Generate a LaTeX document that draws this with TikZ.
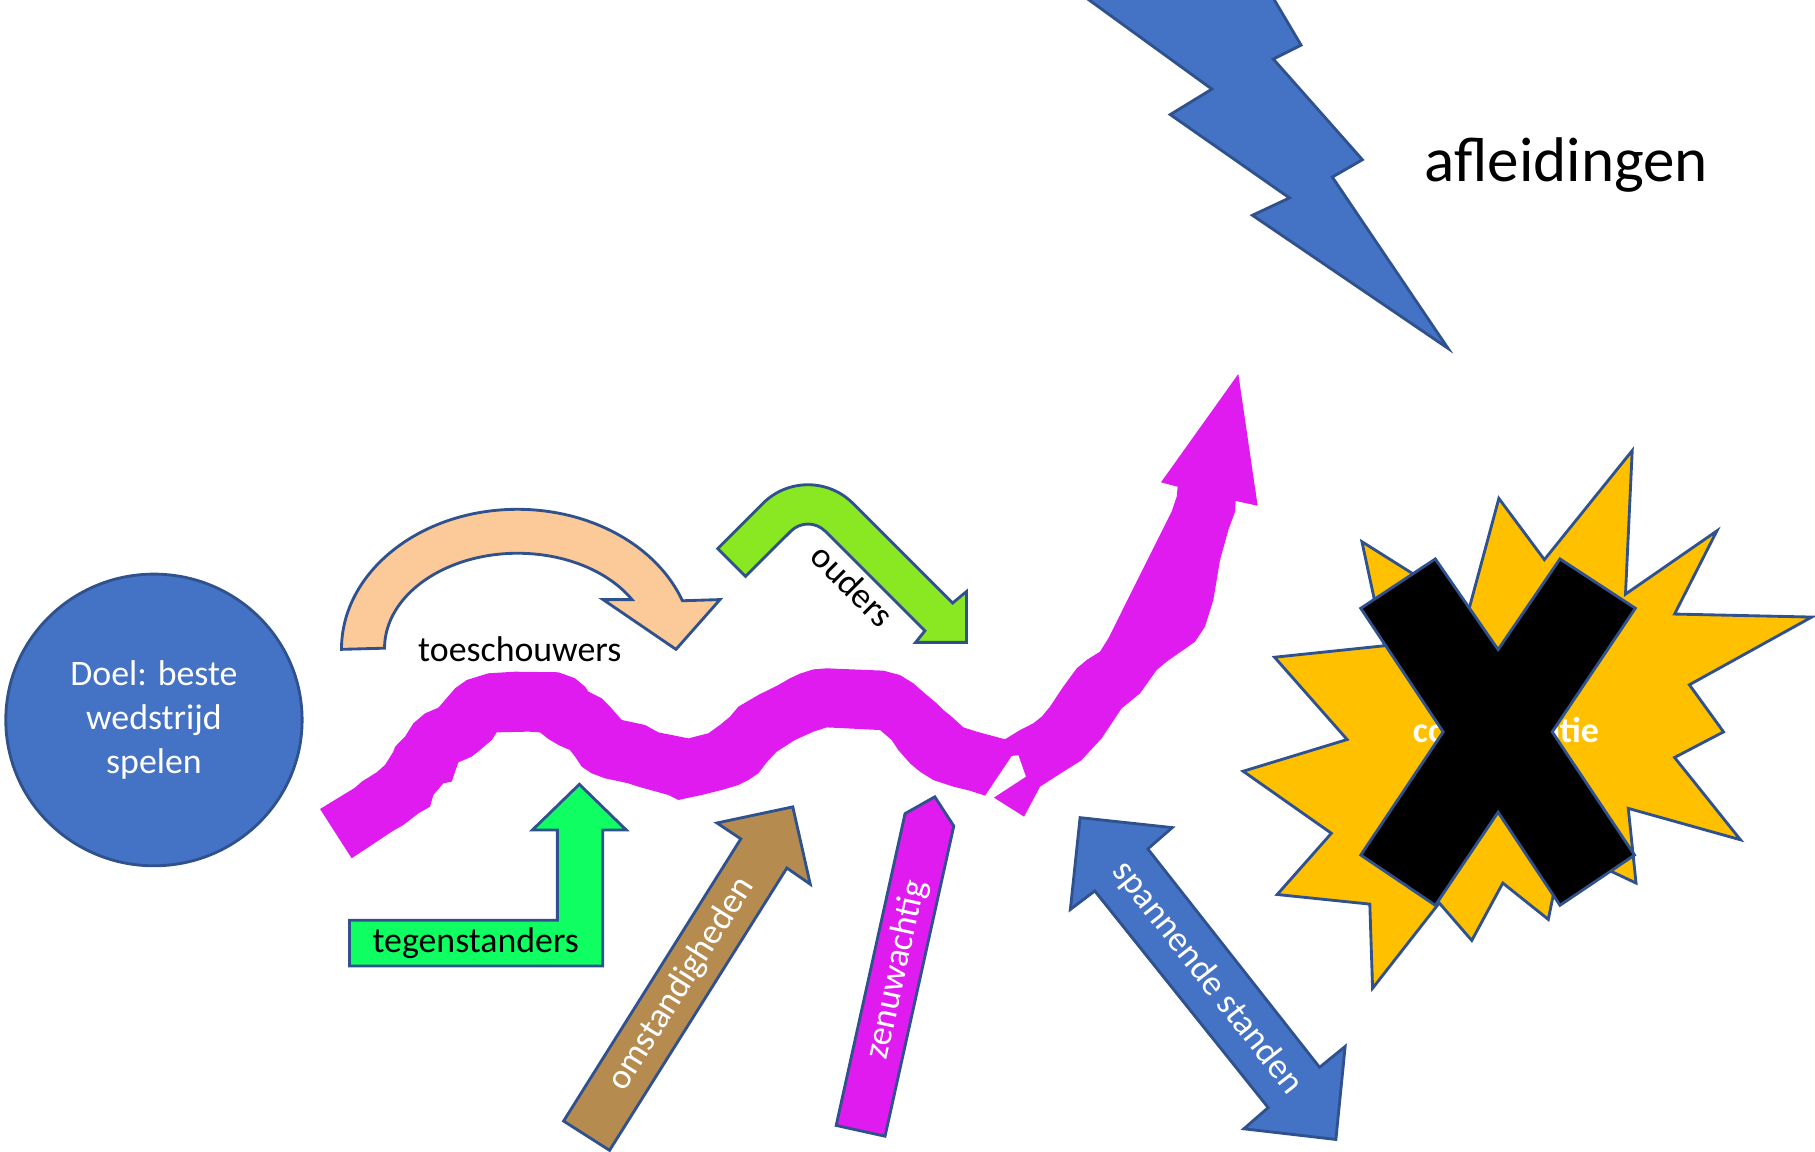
\documentclass[tikz,border=0pt]{standalone}
\usepackage{fontspec}
\setmainfont{Carlito}
\definecolor{officeblue}{HTML}{4472C4}
\definecolor{edgeblue}{HTML}{2F528F}
\definecolor{peach}{HTML}{FBCA98}
\definecolor{limegreen}{HTML}{8AE823}
\definecolor{neongreen}{HTML}{0FFF63}
\definecolor{clay}{HTML}{B68B50}
\definecolor{vividpink}{HTML}{DF1BEF}
\definecolor{burst}{HTML}{FFC000}

\begin{document}
\begin{tikzpicture}[x=0.01cm, y=-0.01cm,
    outlined/.style={draw=edgeblue, line width=0.7pt, line join=miter},
    smalltext/.style={font=\fontsize{8.8}{10.7}\selectfont, inner sep=0pt},
    bigtext/.style={font=\fontsize{15.5}{18}\selectfont, inner sep=0pt}]
\useasboundingbox (0,0) rectangle (1568,995);

% Goal circle
\draw[outlined, fill=officeblue] (133,622) ellipse [x radius=128, y radius=126];
\node[smalltext, text=white, align=center] (doel) at (133,622) {Doel: beste\\wedstrijd\\spelen};

% Lightning bolt (distractions)
\draw[outlined, fill=officeblue] (934,-5) -- (1047,77) -- (1011,99) -- (1114,171) -- (1082,186)
    -- (1251,301) -- (1151,153) -- (1177,138) -- (1100,51) -- (1124,39) -- (1098,-5) -- cycle;
\node[bigtext] (afleid) at (1353,143) {afleidingen};

% Spectators: curved arrow
\draw[outlined, fill=peach] (295,561) arc[start angle=180, end angle=339.7, x radius=152, y radius=121]
    -- (622,518) -- (584,561) -- (521,518) -- (546,518)
    arc[start angle=329.2, end angle=180, x radius=115, y radius=82] -- cycle;
\node[smalltext] (toesch) at (449,561) {toeschouwers};

% Parents: bent arrow
\draw[outlined, fill=limegreen] (620,474) -- (659.1,434.9) arc[start angle=225, end angle=315, radius=55]
    -- (823,521) -- (835,511) -- (835,555) -- (791,555) -- (799,545) -- (712.9,458.9)
    arc[start angle=315, end angle=225, radius=21] -- (644,498) -- cycle;
\node[smalltext, rotate=-45] (ouders) at (737,506) {ouders};

% Opponents: bent-up arrow
\draw[outlined, fill=neongreen] (302,795) -- (481.5,795) -- (481.5,717) -- (460,717) -- (500.5,677.6)
    -- (541,717) -- (520.7,717) -- (520.7,834.6) -- (302,834.6) -- cycle;
\node[smalltext] (tegen) at (411,815) {tegenstanders};

% Circumstances
\draw[outlined, fill=clay] (486.9,968.5) -- (640,724.7) -- (619.4,711) -- (684.9,697.1) -- (700,763.9)
    -- (679.8,749.9) -- (526.6,993.8) -- cycle;
\node[smalltext, text=white, rotate=57.9] (omst) at (589,850) {omstandigheden};

% Nervous
\draw[outlined, fill=vividpink] (722.4,972.3) -- (781.9,702.9) -- (807.6,688.4) -- (824,713.6)
    -- (764.6,981.6) -- cycle;
\node[smalltext, text=white, rotate=77.5] (zenuw) at (775,838) {zenuwachtig};

% Exciting scores: double arrow
\draw[outlined, fill=officeblue] (933.1,706.4) -- (1012.7,715) -- (991.6,733.4) -- (1140,922.1)
    -- (1162.1,904.1) -- (1154.1,984.4) -- (1074.6,975.2) -- (1095.6,956.9) -- (945.8,769.7)
    -- (924.7,785.7) -- cycle;
\node[smalltext, text=white, rotate=-51.8] (spann) at (1043,845) {spannende standen};

% Wavy road to the goal
\fill[vividpink] plot coordinates {
    (276.5,698.9) (306.7,680.5) (312.5,675.3) (325.4,667.2) (332.6,660.9) (339.8,649.4)
    (341.3,645.1) (349.9,636.4) (357.1,624.9) (367.2,616.3) (378.7,611.4) (384.5,604.7)
    (393.1,594.7) (403.2,587.5) (421.9,581.7) (444.9,580.3) (482.4,580.8) (496.8,586.0)
    (505.4,593.2) (508.3,597.5) (519.8,603.3) (527.0,610.5) (537.1,622.0) (557.2,626.3)
    (568.8,632.7) (594.7,637.9) (612.0,633.5) (622.0,626.3) (630.7,619.1) (637.9,610.5)
    (655.1,600.4) (672.4,591.8) (682.5,586.0) (691.0,582.0) (702.7,578.3) (714.2,577.4)
    (763.1,579.4) (777.5,583.2) (789.1,590.4) (800.6,600.4) (809.2,607.6) (815.0,613.4)
    (822.2,619.2) (832.3,628.4) (843.8,632.1) (868.2,638.7)
    (881.2,630.7) (892.7,624.9) (899.9,619.2) (907.1,610.5) (918.6,593.2) (930.2,577.4)
    (938.8,570.2) (950.3,563.0) (957.5,551.5) (1012.2,442.0) (1016.6,429.0) (1017.4,420.5)
    (1003.0,416.7) (1069.8,323.1) (1086.5,436.9)
    (1067.5,432.8) (1067.0,442.0) (1061.2,457.9) (1054.0,483.8) (1048.2,518.4) (1041.0,541.4)
    (1032.4,554.4) (1007.9,571.6) (999.3,578.8) (984.9,599.0) (969.0,612.0) (951.8,637.8)
    (934.0,657.0) (918.6,666.7) (898.5,679.6) (884.7,705.5)
    (858.7,689.1) (886.4,671.0) (879.8,652.3) (874.0,653.1) (851.0,687.4)
    (838.0,683.1) (823.6,679.6) (806.3,673.9) (794.8,666.7) (786.2,659.5) (776.1,648.0)
    (770.3,639.3) (760.3,630.7) (714.2,628.4) (702.7,632.1) (686.8,639.3) (671.0,649.4)
    (662.4,658.6) (655.1,668.1) (646.5,673.9) (637.9,678.2) (623.5,682.5) (606.2,686.8)
    (586.0,691.1) (577.4,686.8) (551.5,679.6) (542.8,676.7) (522.7,672.4) (511.2,668.1)
    (502.5,662.3) (496.8,653.7) (492.4,648.0) (482.4,643.6) (473.7,638.4) (466.5,632.7)
    (456.4,632.1) (429.1,632.7) (424.8,639.3) (414.7,648.0) (407.5,653.7) (396.0,658.6)
    (390.2,675.3) (383.0,676.7) (374.4,686.8) (371.5,696.9) (361.4,702.7) (348.5,712.7)
    (338.4,718.5) (303.8,741.5)} -- cycle;

% Concentration burst
\draw[outlined, fill=burst] (1101.1,567.8) -- (1163.8,638.9) -- (1074.0,666.3) -- (1150.2,719.9)
    -- (1103.4,772.8) -- (1183.4,781.1) -- (1185.8,853.8) -- (1243.4,780.1) -- (1271.5,812.5)
    -- (1298.3,762.9) -- (1337.6,794.3) -- (1350.1,733.1) -- (1413.4,762.9) -- (1406.7,698.4)
    -- (1503.6,725.5) -- (1446.7,654.4) -- (1489.0,632.3) -- (1459.5,591.6) -- (1565.2,533.1)
    -- (1446.7,530.5) -- (1483.2,458.7) -- (1404.3,513.3) -- (1410.1,389.3) -- (1334.2,483.5)
    -- (1294.9,430.6) -- (1269.1,526.2) -- (1176.6,468.0) -- (1195.9,557.9) -- cycle;
\node[smalltext, text=white, font=\fontsize{8.8}{10.7}\selectfont\bfseries] (conc) at (1301,631) {concentratie};

% Cross over it
\draw[outlined, fill=black] (1175.6,525.5) -- (1240,482.9) -- (1294.2,561.2) -- (1347.7,482.9)
    -- (1412.8,525.5) -- (1341,632.3) -- (1412.1,738.7) -- (1347.7,782.1) -- (1294.2,701.7)
    -- (1240,782.1) -- (1175.6,738.7) -- (1246.8,632.3) -- cycle;
\end{tikzpicture}
\end{document}
